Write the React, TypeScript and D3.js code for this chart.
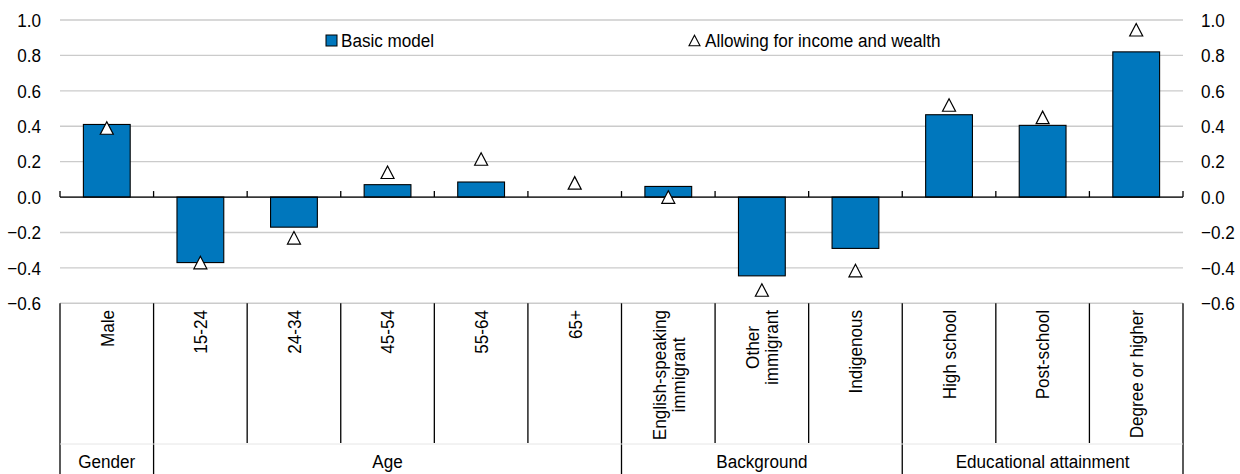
import React, { useEffect, useRef } from "react";
import * as d3 from "d3";

// category labels (each entry is an array of lines)
const categories = [
  ["Male"],
  ["15-24"],
  ["24-34"],
  ["45-54"],
  ["55-64"],
  ["65+"],
  ["English-speaking", "immigrant"],
  ["Other", "immigrant"],
  ["Indigenous"],
  ["High school"],
  ["Post-school"],
  ["Degree or higher"],
];

// groups: name + number of categories inside
const groups = [
  { name: "Gender", size: 1 },
  { name: "Age", size: 5 },
  { name: "Background", size: 3 },
  { name: "Educational attainment", size: 3 },
];

const basicModel = [0.41, -0.37, -0.17, 0.07, 0.085, null, 0.06, -0.445, -0.29, 0.465, 0.405, 0.82];
const incomeWealth = [0.39, -0.37, -0.23, 0.14, 0.215, 0.08, 0.0, -0.525, -0.415, 0.52, 0.45, 0.945];

const yTicks = [-0.6, -0.4, -0.2, 0.0, 0.2, 0.4, 0.6, 0.8, 1.0];

const FONT = "'Liberation Sans', Arial, sans-serif";
const FS = "19px";
const SX = 0.9; // condensed look

export default function App() {
  const ref = useRef<SVGSVGElement>(null);

  useEffect(() => {
    const svg = d3.select(ref.current);
    svg.selectAll("*").remove();

    const left = 60, right = 1183, top = 20, bottom = 303.3;
    const idx = categories.map((_, i) => String(i));
    const x = d3.scaleBand().domain(idx).range([left, right]).paddingInner(0).paddingOuter(0);
    const y = d3.scaleLinear().domain([-0.6, 1.0]).range([bottom, top]);
    const bw = x.bandwidth();

    const addText = (g: any, tx: number, ty: number, s: string, anchor: string, rot = 0) =>
      g.append("text")
        .attr("transform", `translate(${tx},${ty})${rot ? ` rotate(${rot})` : ""} scale(${SX},1)`)
        .attr("text-anchor", anchor)
        .style("font-family", FONT).style("font-size", FS).attr("fill", "#000")
        .text(s);

    // gridlines
    svg.append("g").selectAll("line").data(yTicks).join("line")
      .attr("x1", left).attr("x2", right)
      .attr("y1", d => y(d)).attr("y2", d => y(d))
      .attr("stroke", "#cbcbcb").attr("stroke-width", 1.4);

    // y labels left and right
    const fmt = d3.format(".1f");
    const yl = svg.append("g");
    yTicks.forEach(t => {
      addText(yl, 41, y(t), fmt(t), "end").attr("dy", "0.36em");
      addText(yl, 1201, y(t), fmt(t), "start").attr("dy", "0.36em");
    });

    // bars
    const barData = basicModel.map((v, i) => ({ v, i })).filter(d => d.v !== null) as { v: number; i: number }[];
    svg.append("g").selectAll("rect").data(barData).join("rect")
      .attr("x", d => (x(String(d.i)) as number) + bw * 0.25)
      .attr("width", bw * 0.5)
      .attr("y", d => y(Math.max(0, d.v)))
      .attr("height", d => Math.abs(y(d.v) - y(0)))
      .attr("fill", "#0077bd").attr("stroke", "#000").attr("stroke-width", 1.1);

    // zero axis + ticks
    svg.append("line").attr("x1", left).attr("x2", right).attr("y1", y(0)).attr("y2", y(0))
      .attr("stroke", "#000").attr("stroke-width", 1.3);
    const bounds = d3.range(categories.length + 1).map(i => left + i * bw);
    svg.append("g").selectAll("line").data(bounds).join("line")
      .attr("x1", d => d).attr("x2", d => d).attr("y1", y(0)).attr("y2", y(0) - 6)
      .attr("stroke", "#000").attr("stroke-width", 1.3);

    // triangles
    const tri = (cx: number, cy: number, w: number, h: number) =>
      `M${cx},${cy - h / 2}L${cx + w / 2},${cy + h / 2}L${cx - w / 2},${cy + h / 2}Z`;
    svg.append("g").selectAll("path").data(incomeWealth).join("path")
      .attr("d", (d, i) => tri((x(String(i)) as number) + bw / 2, y(d), 13, 12.5))
      .attr("fill", "#fff").attr("stroke", "#000").attr("stroke-width", 1.2);

    // lower axis: separators
    const groupStarts = new Set<number>();
    let acc = 0;
    groups.forEach(g => { groupStarts.add(acc); acc += g.size; });
    groupStarts.add(acc);
    svg.append("g").selectAll("line").data(bounds).join("line")
      .attr("x1", d => d).attr("x2", d => d)
      .attr("y1", bottom).attr("y2", (d, i) => (groupStarts.has(i) ? 474 : 443))
      .attr("stroke", "#000").attr("stroke-width", 1.3);
    svg.append("line").attr("x1", left).attr("x2", right).attr("y1", 444).attr("y2", 444)
      .attr("stroke", "#e6e6e6").attr("stroke-width", 1);

    // category labels rotated
    const labelTop = 310;
    const lineH = 19;
    categories.forEach((lines, i) => {
      const cx = (x(String(i)) as number) + bw / 2;
      const g = svg.append("g");
      const texts = lines.map(ln => addText(g, 0, 0, ln, "middle"));
      const maxLen = (d3.max(texts, (t: any) => (t.node() as SVGTextElement).getComputedTextLength()) || 0) * SX;
      const cy = labelTop + maxLen / 2;
      texts.forEach((t: any, k: number) => {
        const lx = cx + (k - (lines.length - 1) / 2) * lineH;
        t.attr("transform", `translate(${lx},${cy}) rotate(-90) scale(${SX},1)`).attr("dy", "0.36em");
      });
    });

    // group labels
    let start = 0;
    const gl = svg.append("g");
    groups.forEach(g => {
      const x0 = left + start * bw, x1 = left + (start + g.size) * bw;
      addText(gl, (x0 + x1) / 2, 468, g.name, "middle");
      start += g.size;
    });

    // legend
    const lg = svg.append("g");
    lg.append("rect").attr("x", 326).attr("y", 35).attr("width", 11).attr("height", 11)
      .attr("fill", "#0077bd").attr("stroke", "#000").attr("stroke-width", 1);
    addText(lg, 341, 47, "Basic model", "start");
    lg.append("path").attr("d", tri(694.5, 40.5, 11, 10.5))
      .attr("fill", "#fff").attr("stroke", "#000").attr("stroke-width", 1.1);
    addText(lg, 705, 47, "Allowing for income and wealth", "start");
  }, []);

  return (
    <svg ref={ref} width={1240} height={474}
      style={{ position: "absolute", left: 0, top: 0, background: "#fff" }} />
  );
}
